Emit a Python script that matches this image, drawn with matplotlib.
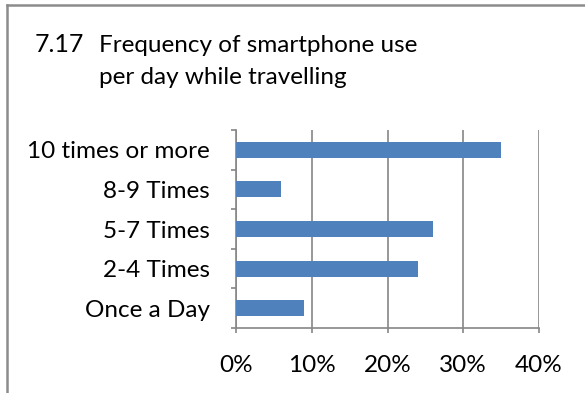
import matplotlib
matplotlib.use("Agg")
import matplotlib.pyplot as plt
from matplotlib.lines import Line2D

plt.rcParams['font.family'] = ['Lato', 'DejaVu Sans']

categories = ["Once a Day", "2-4 Times", "5-7 Times", "8-9 Times", "10 times or more"]
shares = [9, 24, 26, 6, 35]
x_ticks = [0, 10, 20, 30, 40]
x_labels = ["0%", "10%", "20%", "30%", "40%"]

bar_color = "#4F81BD"
grid_color = "#868686"

fig = plt.figure(figsize=(5.85, 3.93), dpi=100)
ax = fig.add_axes([236 / 585, 65 / 393, 303 / 585, 198 / 393])

ypos = list(range(len(categories)))
ax.barh(ypos, shares, height=0.4, color=bar_color, zorder=3)

ax.set_xlim(0, 40)
ax.set_ylim(-0.5, len(categories) - 0.5)
ax.set_xticks(x_ticks)
ax.set_xticklabels(x_labels, fontsize=17.5)
ax.xaxis.grid(True, color=grid_color, linewidth=1.2, zorder=0)

# category labels in the middle, tick marks at the boundaries
ax.set_yticks(ypos)
ax.set_yticklabels(categories, fontsize=17.5)
ax.set_yticks([y - 0.5 for y in ypos] + [len(categories) - 0.5], minor=True)
ax.tick_params(axis="y", which="major", length=0, pad=19)
ax.tick_params(axis="y", which="minor", length=3.5, width=1.2, color=grid_color)
ax.tick_params(axis="x", length=3.5, width=1.2, color=grid_color, pad=16)

for side in ["top", "right"]:
    ax.spines[side].set_visible(False)
for side in ["left", "bottom"]:
    ax.spines[side].set_color(grid_color)
    ax.spines[side].set_linewidth(1.2)

# title
fig.text(35 / 585, 1 - 52 / 393, "7.17", fontsize=18, ha="left", va="baseline")
fig.text(99 / 585, 1 - 52 / 393, "Frequency of smartphone use", fontsize=17.5, ha="left", va="baseline")
fig.text(99 / 585, 1 - 84 / 393, "per day while travelling", fontsize=17.5, ha="left", va="baseline")

# frame around the chart
fig.add_artist(Line2D([7 / 585, 1], [1 - 5 / 393, 1 - 5 / 393], color="#8c8c8c", linewidth=1.8))
fig.add_artist(Line2D([7 / 585, 7 / 585], [0, 1 - 5 / 393], color="#8c8c8c", linewidth=1.8))

fig.savefig("out.png", dpi=100)
